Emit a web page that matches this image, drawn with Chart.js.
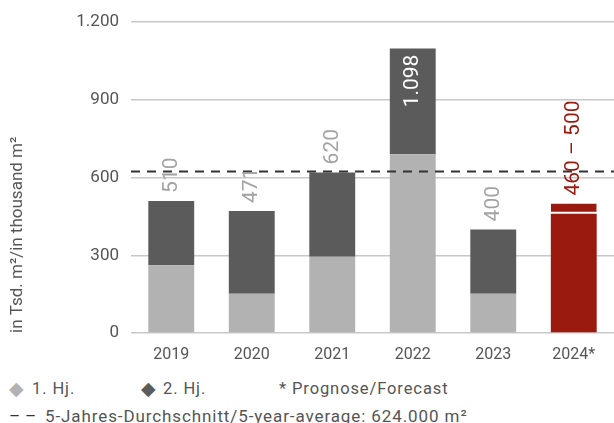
<!DOCTYPE html>
<html>
<head>
<meta charset="utf-8">
<script src="https://cdn.jsdelivr.net/npm/chart.js@4"></script>
<style>
  html, body { margin: 0; padding: 0; background: #fff; }
  body { width: 614px; height: 423px; overflow: hidden; font-family: Roboto, sans-serif; color: #555; }
  #wrap { position: relative; width: 614px; height: 370px; }
  .legend { position: absolute; left: 0; white-space: nowrap; letter-spacing: 0.9px; }
  .legend span { position: absolute; }
  .dia { font-size: 19px; }
</style>
</head>
<body>
<div id="wrap"><canvas id="chart"></canvas></div>
<div class="legend" style="top:379px; font-size:16.5px">
  <span style="left:9px; top:-2px" class="dia"><b style="color:#b2b2b2;font-weight:normal">&#9670;</b></span>
  <span style="left:32px">1. Hj.</span>
  <span style="left:141px; top:-2px" class="dia"><b style="color:#5b5b5b;font-weight:normal">&#9670;</b></span>
  <span style="left:163px">2. Hj.</span>
  <span style="left:279px">* Prognose/Forecast</span>
</div>
<div class="legend" style="top:406px; font-size:17px">
  <span style="left:9px; color:#333">&#8211;</span>
  <span style="left:25px; color:#333">&#8211;</span>
  <span style="left:45px">5-Jahres-Durchschnitt/5-year-average: 624.000 m²</span>
</div>
<script>
// data
const years = ['2019', '2020', '2021', '2022', '2023', '2024*'];
const firstHalf = [262, 152, 294, 690, 152, null];
const secondHalf = [248, 319, 326, 408, 248, null];
const forecastLow = [null, null, null, null, null, 460];
const forecastHigh = [null, null, null, null, null, 40];
const totalLabels = ['510', '471', '620', '1.098', '400', '460 – 500'];
const fiveYearAvg = 624;

const FONT = 'Roboto, sans-serif';

// dashed 5-year average + rotated total labels
const extrasPlugin = {
    id: 'extras',
    afterDatasetsDraw(chart) {
        const ctx = chart.ctx;
        const area = chart.chartArea;
        const y = chart.scales.y.getPixelForValue(fiveYearAvg);
        ctx.save();
        ctx.strokeStyle = '#333';
        ctx.lineWidth = 2;
        ctx.setLineDash([9, 7]);
        ctx.beginPath();
        ctx.moveTo(area.left, y);
        ctx.lineTo(area.right, y);
        ctx.stroke();
        ctx.restore();

        ctx.save();
        ctx.font = '21px ' + FONT;
        ctx.textBaseline = 'middle';
        years.forEach((yr, i) => {
            let top = Infinity, x = 0;
            chart.data.datasets.forEach((ds, di) => {
                const el = chart.getDatasetMeta(di).data[i];
                if (ds.data[i] != null && el) {
                    top = Math.min(top, el.y);
                    x = el.x;
                }
            });
            ctx.save();
            ctx.translate(x, top);
            ctx.rotate(-Math.PI / 2);
            if (i === 3) {
                ctx.fillStyle = '#fff';
                ctx.textAlign = 'right';
                ctx.fillText(totalLabels[i], -6, 0);
            } else {
                ctx.fillStyle = i === 5 ? '#9b1a10' : '#a3a3a3';
                ctx.textAlign = 'left';
                ctx.fillText(totalLabels[i], 8, 0);
            }
            ctx.restore();
        });
        ctx.restore();
    }
};

new Chart(document.getElementById('chart'), {
    type: 'bar',
    data: {
        labels: years,
        datasets: [
            { label: '1. Hj.', data: firstHalf, backgroundColor: '#b2b2b2' },
            { label: '2. Hj.', data: secondHalf, backgroundColor: '#5b5b5b' },
            { label: 'Prognose', data: forecastLow, backgroundColor: '#9b1a10' },
            {
                label: 'Prognose Spanne', data: forecastHigh, backgroundColor: '#9b1a10',
                borderColor: '#fff', borderWidth: { bottom: 2, top: 0, left: 0, right: 0 }, borderSkipped: false
            }
        ]
    },
    options: {
        responsive: true,
        maintainAspectRatio: false,
        animation: false,
        layout: { padding: { top: 20, right: 0, left: 0, bottom: 0 } },
        datasets: { bar: { barPercentage: 0.57, categoryPercentage: 1 } },
        plugins: { legend: { display: false }, tooltip: { enabled: false } },
        scales: {
            x: {
                stacked: true,
                grid: { display: false },
                border: { display: false },
                ticks: { color: '#555', font: { family: FONT, size: 16 }, padding: 4 },
                afterFit(scale) { scale.height = 37; }
            },
            y: {
                stacked: true,
                min: 0,
                max: 1200,
                ticks: {
                    stepSize: 300,
                    color: '#555',
                    padding: 12,
                    font: { family: FONT, size: 17 },
                    callback: v => String(v).replace(/\B(?=(\d{3})+(?!\d))/g, '.')
                },
                grid: { color: '#c8c8c8', lineWidth: 1.5, drawTicks: false },
                border: { display: false },
                title: {
                    display: true,
                    text: 'in Tsd. m²/in thousand m²',
                    align: 'start',
                    color: '#555',
                    font: { family: FONT, size: 17 },
                    padding: { top: 8, bottom: 0 }
                },
                afterFit(scale) { scale.width = 131; }
            }
        }
    },
    plugins: [extrasPlugin]
});
</script>
</body>
</html>
